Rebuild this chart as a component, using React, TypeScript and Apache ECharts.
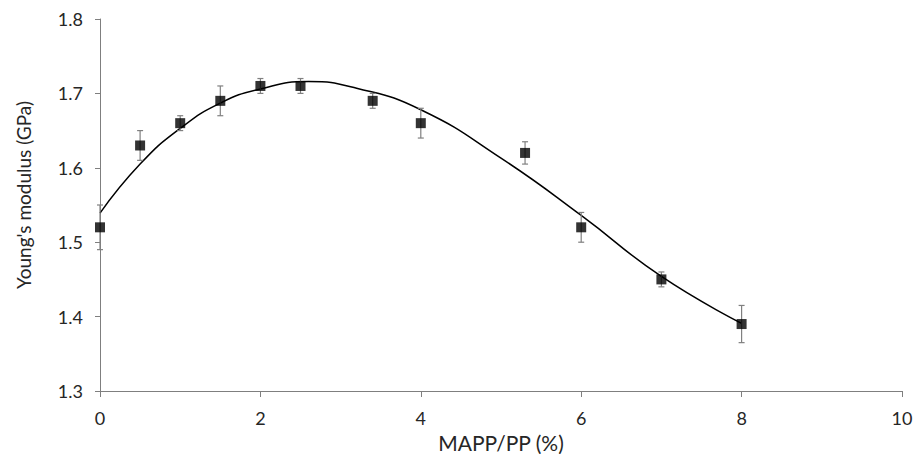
import React, { useEffect, useRef } from "react";
import * as echarts from "echarts";

const xValues = [0, 0.5, 1, 1.5, 2, 2.5, 3.4, 4, 5.3, 6, 7, 8];
const yValues = [1.52, 1.63, 1.66, 1.69, 1.71, 1.71, 1.69, 1.66, 1.62, 1.52, 1.45, 1.39];
const errValues = [0.03, 0.02, 0.01, 0.02, 0.01, 0.01, 0.01, 0.02, 0.015, 0.02, 0.01, 0.025];

const curveX = [0, 0.5, 1, 1.5, 2, 2.6, 3.2, 4, 5, 6, 7, 8];
const curveY = [1.539, 1.605, 1.653, 1.687, 1.706, 1.716, 1.707, 1.678, 1.613, 1.536, 1.454, 1.391];

const FONT = "Lato";
const TEXT = "#262626";
const AXIS = "#7f7f7f";

export default function App() {
  const ref = useRef<HTMLDivElement>(null);
  useEffect(() => {
    if (!ref.current) return;
    const chart = echarts.init(ref.current, undefined, { renderer: "svg" });
    const points = xValues.map((x, i) => [x, yValues[i]]);
    const errs = xValues.map((x, i) => [x, yValues[i] - errValues[i], yValues[i] + errValues[i]]);
    const curve = curveX.map((x, i) => [x, curveY[i]]);
    chart.setOption({
      animation: false,
      grid: { left: 100, right: 13, top: 19, bottom: 63, containLabel: false, outerBoundsMode: "none" },
      xAxis: {
        type: "value",
        min: 0,
        max: 10,
        interval: 2,
        name: "MAPP/PP (%)",
        nameLocation: "middle",
        nameGap: 40,
        nameTextStyle: { fontFamily: FONT, fontSize: 21, color: TEXT },
        axisLine: { lineStyle: { color: AXIS, width: 1 } },
        axisTick: { show: true, inside: false, length: 6, lineStyle: { color: AXIS } },
        axisLabel: { fontFamily: FONT, fontSize: 18, color: TEXT, margin: 18 },
        splitLine: { show: false },
      },
      yAxis: {
        type: "value",
        min: 1.3,
        max: 1.8,
        interval: 0.1,
        name: "Young's modulus (GPa)",
        nameLocation: "middle",
        nameGap: 67,
        nameTextStyle: { fontFamily: FONT, fontSize: 19, color: TEXT, padding: [0, 0, 0, 20] },
        axisLine: { show: true, lineStyle: { color: AXIS, width: 1 } },
        axisTick: { show: true, inside: false, length: 5, lineStyle: { color: AXIS } },
        axisLabel: {
          fontFamily: FONT,
          fontSize: 18,
          color: TEXT,
          margin: 17,
          formatter: (v: number) => v.toFixed(1),
        },
        splitLine: { show: false },
      },
      series: [
        {
          type: "line",
          data: curve,
          smooth: 0.5,
          showSymbol: false,
          lineStyle: { color: "#000000", width: 1.5 },
          z: 2,
        },
        {
          type: "custom",
          data: errs,
          z: 3,
          renderItem: (params: any, api: any) => {
            const x = api.value(0);
            const lo = api.coord([x, api.value(1)]);
            const hi = api.coord([x, api.value(2)]);
            const cap = 3;
            const style = { stroke: "#808080", lineWidth: 1.2 };
            return {
              type: "group",
              children: [
                { type: "line", shape: { x1: lo[0], y1: lo[1], x2: hi[0], y2: hi[1] }, style },
                { type: "line", shape: { x1: lo[0] - cap, y1: lo[1], x2: lo[0] + cap, y2: lo[1] }, style },
                { type: "line", shape: { x1: hi[0] - cap, y1: hi[1], x2: hi[0] + cap, y2: hi[1] }, style },
              ],
            };
          },
        },
        {
          type: "scatter",
          data: points,
          symbol: "rect",
          symbolSize: 10,
          itemStyle: { color: "#000000" },
          z: 4,
        },
      ],
    });
    return () => chart.dispose();
  }, []);
  return <div ref={ref} style={{ width: 915, height: 454, position: "absolute", left: 0, top: 0 }} />;
}
